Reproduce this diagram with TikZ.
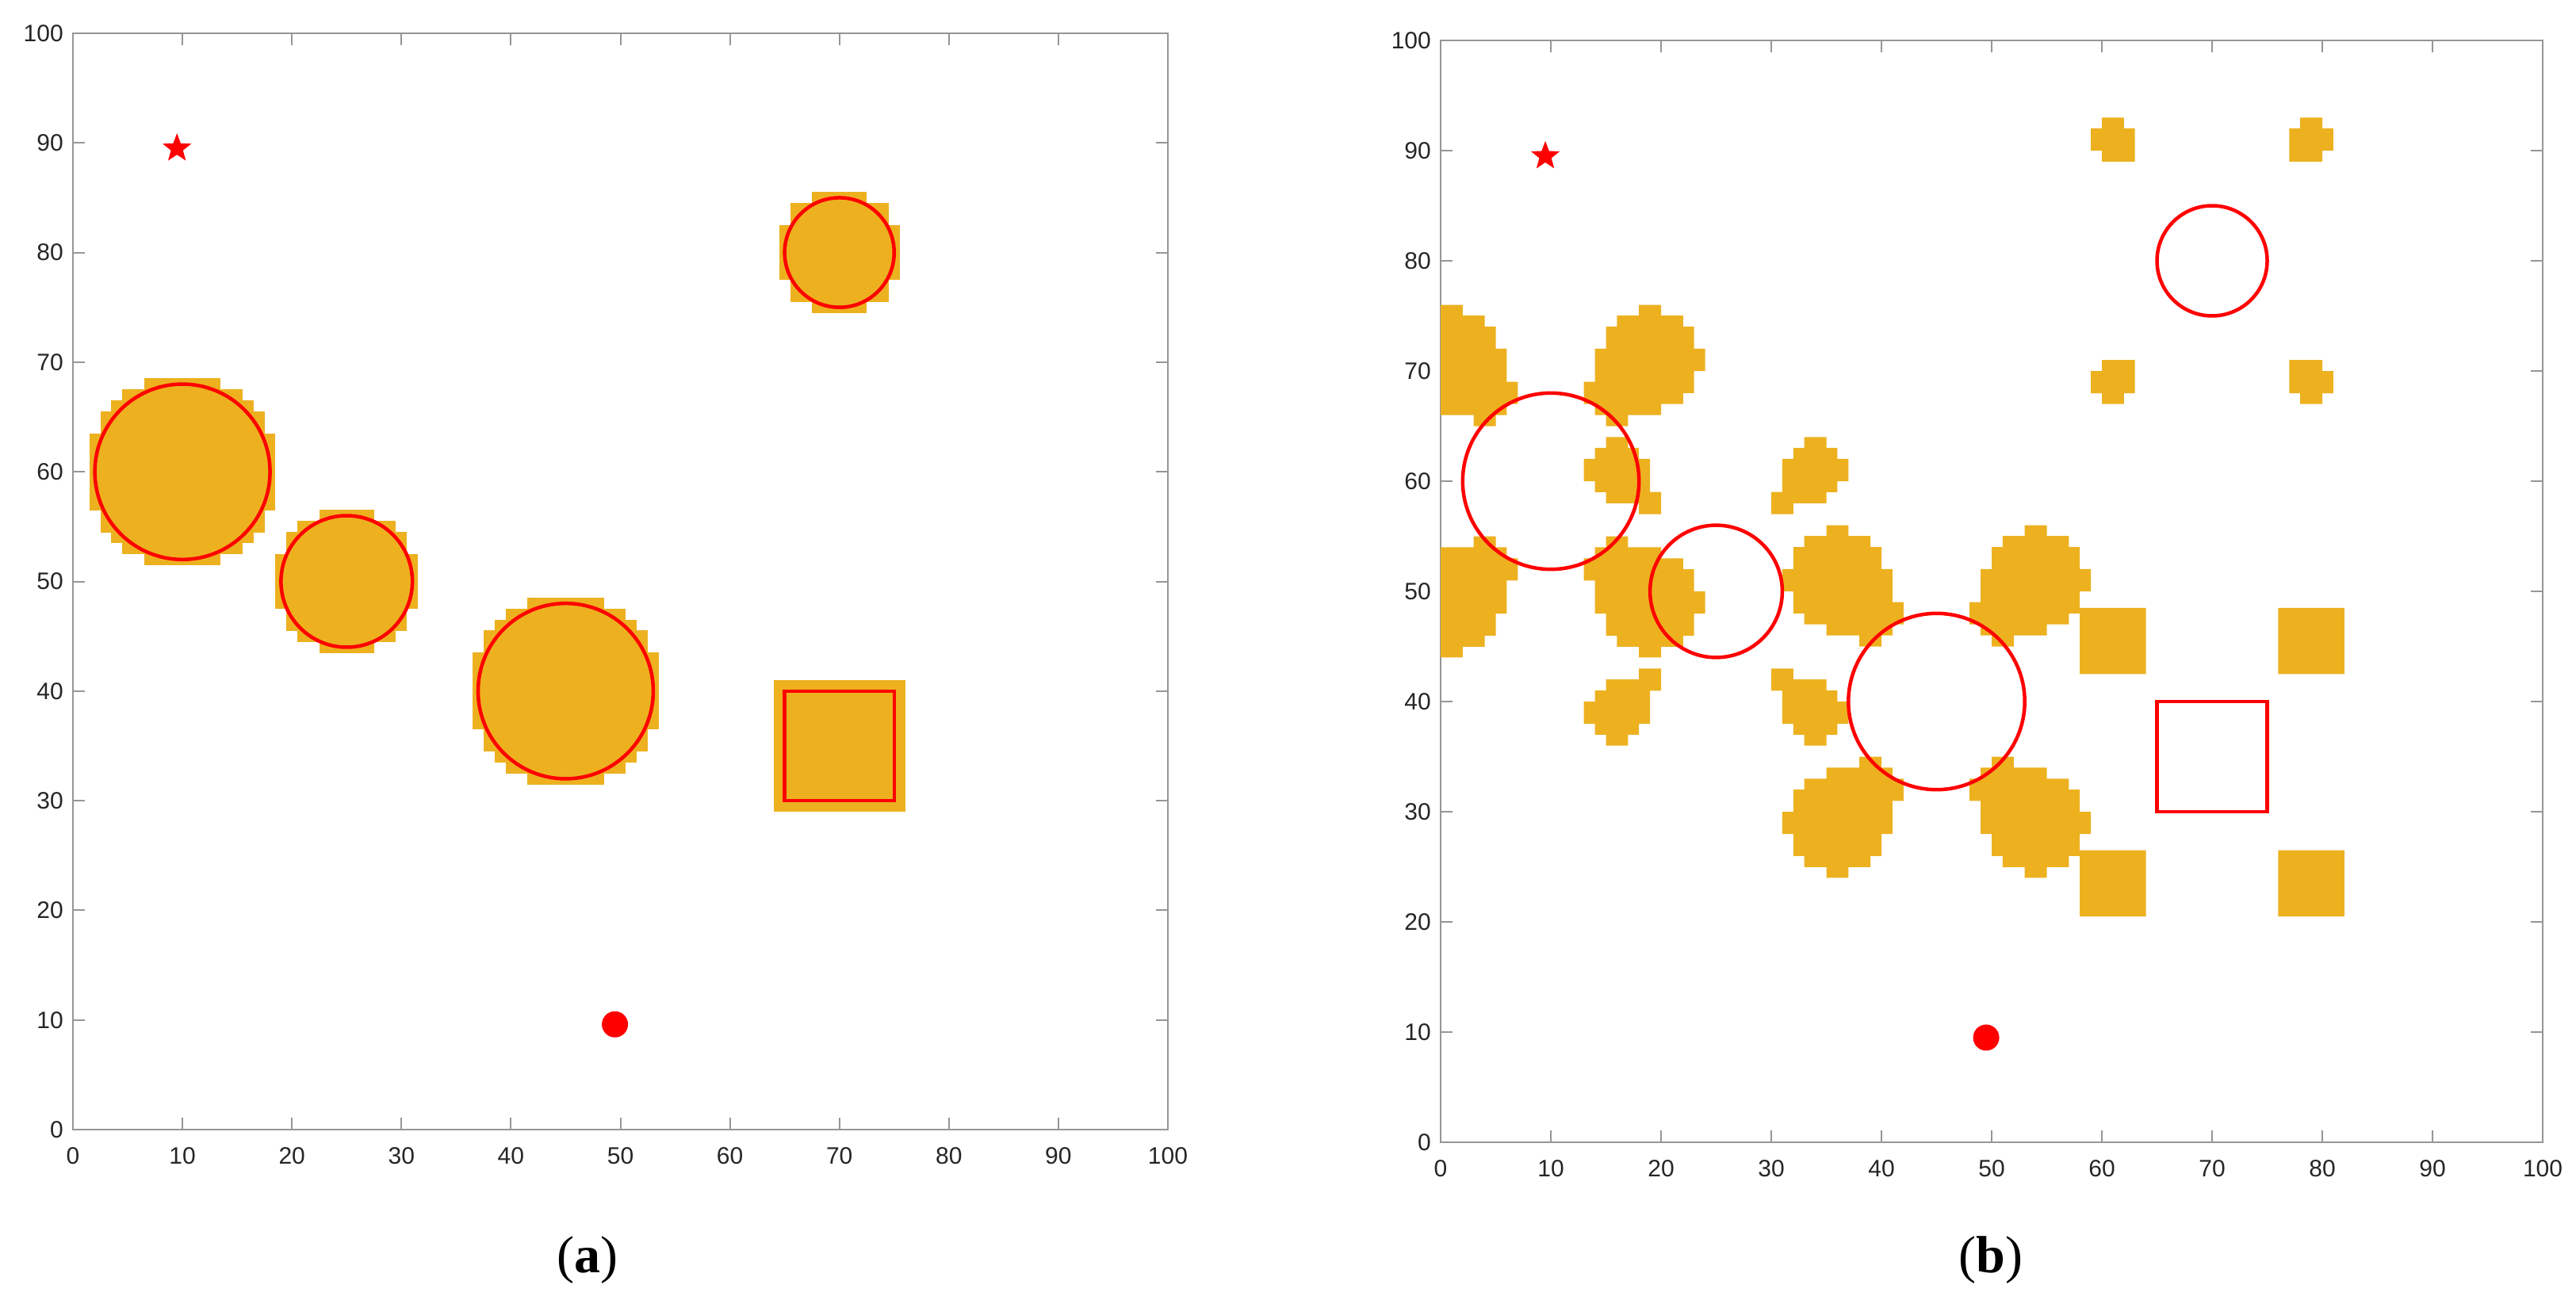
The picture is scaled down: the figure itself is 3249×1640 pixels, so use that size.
\documentclass[tikz,border=0pt]{standalone}
\usepackage{fontspec}
\setmainfont{Liberation Sans}
\newfontfamily\capfont{Liberation Serif}
\usetikzlibrary{shapes.geometric}
\definecolor{blobc}{RGB}{237,177,32}
\definecolor{axc}{RGB}{150,150,150}
\definecolor{tickc}{RGB}{38,38,38}
\definecolor{redc}{RGB}{255,0,0}
\tikzset{
  blob/.style={fill=blobc},
  obst/.style={draw=redc, line width=4.5pt},
  axline/.style={draw=axc, line width=2.5pt},
  tickline/.style={draw=axc, line width=2pt},
  ticklab/.style={font=\fontsize{30}{36}\selectfont, text=tickc, inner sep=0pt},
  startmark/.style={star, star points=5, star point ratio=0.42, shape border rotate=180, fill=redc, inner sep=0pt, minimum size=16pt},
  goalmark/.style={circle, fill=redc, inner sep=0pt, minimum size=33pt},
  caplab/.style={font=\capfont\fontsize{66}{72}\selectfont, inner sep=0pt}
}
% axes with ticks and labels; #1 = prefix for node names
\newcommand\myaxes[1]{%
  \draw[axline] (0,0) rectangle (100,100);
  \foreach \t in {0,10,...,100}{%
    \draw[tickline] (\t,0) -- (\t,1.1);
    \draw[tickline] (\t,100) -- (\t,98.9);
    \draw[tickline] (0,\t) -- (1.1,\t);
    \draw[tickline] (100,\t) -- (98.9,\t);
    \node[ticklab, anchor=north, yshift=-22pt] (#1x\t) at (\t,0) {\t};
    \node[ticklab, anchor=east, xshift=-12pt] (#1y\t) at (0,\t) {\t};
  }%
}
% pixelated disc for plot (a): cells centred on integers
\newcommand\pixdisc[3]{%
  \foreach \dy in {-10,...,10}{%
    \pgfmathsetmacro\myT{(#3+0.705)*(#3+0.705)-\dy*\dy}%
    \ifdim\myT pt<0pt\else
      \pgfmathsetmacro\myW{floor(sqrt(\myT))}%
      \fill[blob] ({#1-\myW-0.5},{#2+\dy-0.52}) rectangle ({#1+\myW+0.5},{#2+\dy+0.52});
    \fi
  }%
}
% copies for plot (b), top-right quadrant shapes relative to obstacle centre
\newcommand\shapeEight{%
  \fill[blob] (8,15) rectangle (10,16) (6,14) rectangle (12,15.02) (5,12) rectangle (13,14.02)
    (4,10) rectangle (14,12.02) (4,9) rectangle (13,10.02) (3,8) rectangle (13,9.02)
    (3,7) rectangle (12,8.02) (4,6) rectangle (10,7.02) (5,5) rectangle (7,6.02);%
}
\newcommand\shapeSix{%
  \fill[blob] (8,13) rectangle (10,14) (7,12) rectangle (11,13.02) (6,10) rectangle (12,12.02)
    (6,9) rectangle (11,10.02) (5,8) rectangle (10,9.02) (5,7) rectangle (7,8.02);%
}
\newcommand\shapeFive{%
  \fill[blob] (8,12) rectangle (10,13) (7,10) rectangle (11,12.02) (7,9) rectangle (10,10.02);%
}
\newcommand\fourcopies[3]{%
  \begin{scope}[shift={(#1,#2)}]#3\end{scope}
  \begin{scope}[shift={(#1,#2)},xscale=-1]#3\end{scope}
  \begin{scope}[shift={(#1,#2)},yscale=-1]#3\end{scope}
  \begin{scope}[shift={(#1,#2)},xscale=-1,yscale=-1]#3\end{scope}
}
\begin{document}
\begin{tikzpicture}[x=1pt,y=-1pt]
\useasboundingbox[fill=white] (0,0) rectangle (3249,1640);
% ---------------- plot (a)
\begin{scope}[shift={(92,1425)},x=13.81pt,y=13.83pt]
  \myaxes{a}
  \pixdisc{10}{60}{8}
  \pixdisc{25}{50}{6}
  \pixdisc{45}{40}{8}
  \pixdisc{70}{80}{5}
  \fill[blob] (64,29) rectangle (76,41);
  \draw[obst] (10,60) circle [radius=8];
  \draw[obst] (25,50) circle [radius=6];
  \draw[obst] (45,40) circle [radius=8];
  \draw[obst] (70,80) circle [radius=5];
  \draw[obst] (65,30) rectangle (75,40);
  \node[startmark] (astart) at (9.5,89.5) {};
  \node[goalmark] (agoal) at (49.5,9.6) {};
\end{scope}
% ---------------- plot (b)
\begin{scope}[shift={(1817,1441)},x=13.9pt,y=13.9pt]
  \myaxes{b}
  \begin{scope}
    \clip (0,0) rectangle (100,100);
    \fourcopies{10}{60}{\shapeEight}
    \fourcopies{45}{40}{\shapeEight}
    \fourcopies{25}{50}{\shapeSix}
    \fourcopies{70}{80}{\shapeFive}
    \fill[blob] (58,42.5) rectangle (64,48.5) (76,42.5) rectangle (82,48.5)
                (58,20.5) rectangle (64,26.5) (76,20.5) rectangle (82,26.5);
  \end{scope}
  \draw[obst] (10,60) circle [radius=8];
  \draw[obst] (25,50) circle [radius=6];
  \draw[obst] (45,40) circle [radius=8];
  \draw[obst] (70,80) circle [radius=5];
  \draw[obst] (65,30) rectangle (75,40);
  \node[startmark] (bstart) at (9.5,89.5) {};
  \node[goalmark] (bgoal) at (49.5,9.5) {};
\end{scope}
\node[caplab] (capa) at (741,1590) {(\textbf{a})};
\node[caplab] (capb) at (2511,1590) {(\textbf{b})};
\end{tikzpicture}
\end{document}
